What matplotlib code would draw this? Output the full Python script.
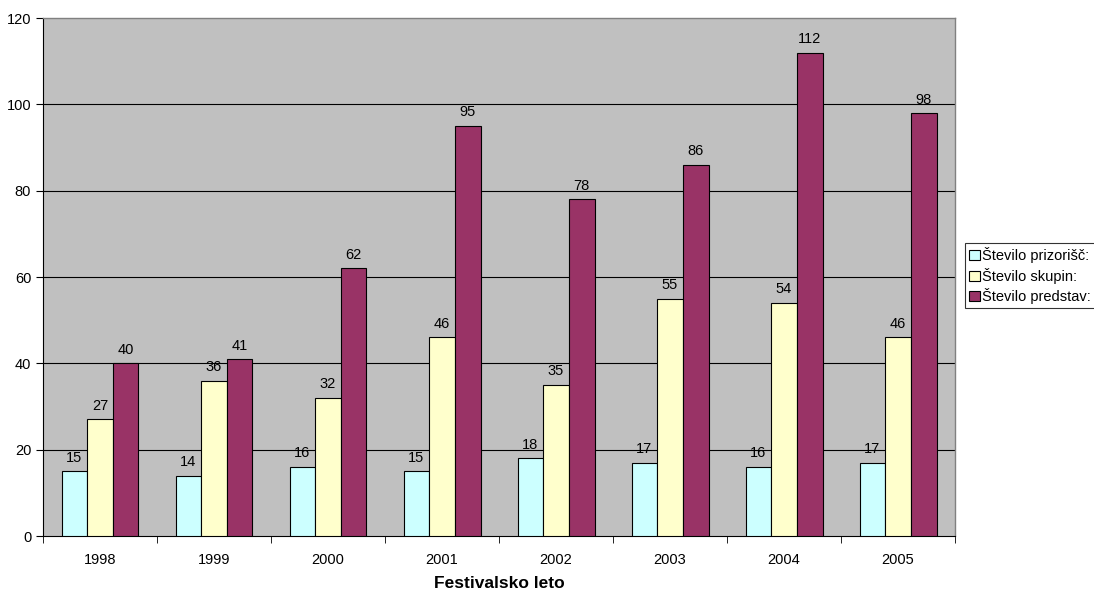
import matplotlib.pyplot as plt
import numpy as np

plt.rcParams['font.family'] = ['Liberation Sans', 'DejaVu Sans']

years = ['1998', '1999', '2000', '2001', '2002', '2003', '2004', '2005']
prizorisc = [15, 14, 16, 15, 18, 17, 16, 17]
skupin = [27, 36, 32, 46, 35, 55, 54, 46]
predstav = [40, 41, 62, 95, 78, 86, 112, 98]

series = [
    ('Število prizorišč:', prizorisc, '#CCFFFF'),
    ('Število skupin:', skupin, '#FFFFCC'),
    ('Število predstav:', predstav, '#993366'),
]

fig = plt.figure(figsize=(10.94, 5.93), dpi=100)
ax = fig.add_axes([0.0393, 0.0961, 0.8337, 0.8735])
ax.set_facecolor('#C0C0C0')

x = np.arange(len(years))
w = 0.225
for i, (name, vals, col) in enumerate(series):
    pos = x + (i - 1) * w
    bars = ax.bar(pos, vals, w, color=col, edgecolor='black', linewidth=0.8,
                  label=name, zorder=3)
    for b, v in zip(bars, vals):
        ax.text(b.get_x() + b.get_width() / 2, v + 1.5, str(v),
                ha='center', va='bottom', fontsize=10.5, zorder=4)

ax.set_xlim(-0.5, len(years) - 0.5)
ax.set_ylim(0, 120)
ax.set_yticks(range(0, 121, 20))
# horizontal gridlines (the top edge is the grey frame)
ax.hlines(range(20, 120, 20), -0.5, len(years) - 0.5, color='black',
          linewidth=0.8, zorder=1)
ax.set_xticks(x)
ax.set_xticklabels(years, fontsize=10.5)
ax.set_xticks(np.arange(-0.5, len(years)), minor=True)
ax.tick_params(axis='x', which='major', length=0, pad=12)
ax.tick_params(axis='x', which='minor', length=5, direction='out')
ax.tick_params(axis='y', length=5, direction='out', labelsize=10.5)
for s in ['top', 'right']:
    ax.spines[s].set_color('#808080')
    ax.spines[s].set_linewidth(1.0)
ax.spines['left'].set_linewidth(0.8)
ax.spines['bottom'].set_linewidth(0.8)

ax.set_xlabel('Festivalsko leto', fontsize=12.5, fontweight='bold', va='center')
ax.xaxis.set_label_coords(0.5, -0.092)

leg = fig.legend(loc='upper left', bbox_to_anchor=(965 / 1094, 1 - 243 / 593),
                 fontsize=10.5, frameon=True, fancybox=False, edgecolor='black',
                 handlelength=0.7, handleheight=0.7, handletextpad=0.2,
                 borderpad=0.3, labelspacing=0.3, borderaxespad=0)
leg.get_frame().set_linewidth(0.8)

fig.savefig('out.png', dpi=100)
